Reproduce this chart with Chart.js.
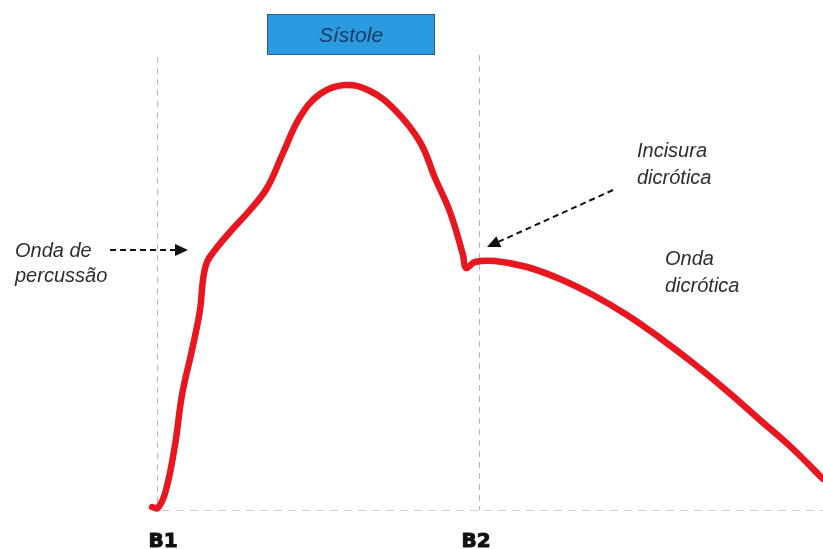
<!DOCTYPE html>
<html>
<head>
<meta charset="utf-8">
<script src="https://cdn.jsdelivr.net/npm/chart.js@4"></script>
<style>
  html, body { margin: 0; padding: 0; background: #ffffff; }
  #wrap { width: 823px; height: 549px; }
</style>
</head>
<body>
<div id="wrap"><canvas id="c" width="823" height="549"></canvas></div>
<script>
// Arterial pressure waveform (arbitrary units), time measured from B1
const timeValues = [-5, 1, 9, 18, 25, 35, 43, 46, 50, 58, 73, 93, 110, 126, 143, 163, 188, 213, 238, 263, 278, 293, 306, 309, 318, 338, 370, 403, 436, 470, 503, 536, 570, 603, 636, 666];
const pressureValues = [3, 2, 20, 65, 115, 160, 200, 230, 248, 260, 278, 300, 322, 357, 393, 416, 425, 419, 400, 368, 332, 298, 255, 242, 248, 249, 243, 231, 215, 195, 172, 147, 119, 90, 61, 31];

// Heart sounds markers
const markerLabels = ['B1', 'B2'];
const markerTimes = [0, 322];

// Annotation texts
const phaseLabel = 'Sístole';
const percussionLabel = ['Onda de', 'percussão'];
const incisuraLabel = ['Incisura', 'dicrótica'];
const dicroticLabel = ['Onda', 'dicrótica'];

const points = timeValues.map((t, i) => ({ x: t, y: pressureValues[i] }));

function arrow(ctx, x1, y1, x2, y2) {
  const ang = Math.atan2(y2 - y1, x2 - x1);
  const headLen = 13, headW = 6;
  const bx = x2 - headLen * Math.cos(ang), by = y2 - headLen * Math.sin(ang);
  ctx.save();
  ctx.strokeStyle = '#111';
  ctx.lineWidth = 2;
  ctx.setLineDash([6, 4]);
  ctx.beginPath();
  ctx.moveTo(x1, y1);
  ctx.lineTo(bx, by);
  ctx.stroke();
  ctx.setLineDash([]);
  ctx.fillStyle = '#111';
  ctx.beginPath();
  ctx.moveTo(x2, y2);
  ctx.lineTo(bx + headW * Math.sin(ang), by - headW * Math.cos(ang));
  ctx.lineTo(bx - headW * Math.sin(ang), by + headW * Math.cos(ang));
  ctx.closePath();
  ctx.fill();
  ctx.restore();
}

const guides = {
  id: 'guides',
  beforeDatasetsDraw(chart) {
    const ctx = chart.ctx;
    const xs = chart.scales.x, ys = chart.scales.y;
    const y0 = ys.getPixelForValue(0);
    ctx.save();
    // baseline
    ctx.strokeStyle = '#cfcfcf';
    ctx.lineWidth = 1;
    ctx.setLineDash([8, 6]);
    ctx.beginPath();
    ctx.moveTo(xs.getPixelForValue(markerTimes[0]) + 5, y0 + 0.5);
    ctx.lineTo(chart.chartArea.right, y0 + 0.5);
    ctx.stroke();
    // vertical marker lines
    ctx.strokeStyle = '#b5b5b5';
    ctx.setLineDash([6, 5]);
    const tops = [ys.getPixelForValue(453), ys.getPixelForValue(455)];
    markerTimes.forEach((t, i) => {
      const px = Math.round(xs.getPixelForValue(t)) + 0.5;
      ctx.beginPath();
      ctx.moveTo(px, tops[i]);
      ctx.lineTo(px, y0);
      ctx.stroke();
    });
    ctx.restore();
  },
  afterDraw(chart) {
    const ctx = chart.ctx;
    const xs = chart.scales.x;
    ctx.save();
    // Sístole box
    ctx.fillStyle = '#2a9be0';
    ctx.fillRect(267, 14, 168, 41);
    ctx.strokeStyle = '#2c5a80';
    ctx.lineWidth = 1;
    ctx.strokeRect(267.5, 14.5, 167, 40);
    ctx.fillStyle = '#173a5e';
    ctx.font = 'italic 21px "Liberation Sans", Arial, sans-serif';
    ctx.textAlign = 'center';
    ctx.textBaseline = 'alphabetic';
    ctx.fillText(phaseLabel, 351, 42);

    // annotation texts
    ctx.fillStyle = '#2e2e2e';
    ctx.textAlign = 'left';
    ctx.font = 'italic 20px "Liberation Sans", Arial, sans-serif';
    ctx.fillText(percussionLabel[0], 15, 257);
    ctx.fillText(percussionLabel[1], 15, 282);
    ctx.fillText(incisuraLabel[0], 637, 157);
    ctx.fillText(incisuraLabel[1], 637, 184);
    ctx.fillText(dicroticLabel[0], 665, 265);
    ctx.fillText(dicroticLabel[1], 665, 292);

    // arrows
    arrow(ctx, 110, 250, 188, 250);
    arrow(ctx, 613, 190, 487, 247);

    // marker labels
    ctx.fillStyle = '#111';
    ctx.strokeStyle = '#111';
    ctx.lineWidth = 1;
    ctx.font = 'bold 20px "DejaVu Sans", sans-serif';
    ctx.textAlign = 'center';
    const offs = [6, -3];
    markerLabels.forEach((lab, i) => {
      const px = xs.getPixelForValue(markerTimes[i]) + offs[i];
      ctx.fillText(lab, px, 547);
      ctx.strokeText(lab, px, 547);
    });
    ctx.restore();
  }
};

new Chart(document.getElementById('c'), {
  type: 'line',
  data: {
    datasets: [{
      data: points,
      borderColor: '#e8161e',
      borderWidth: 6.5,
      pointRadius: 0,
      tension: 0.4,
      borderCapStyle: 'round',
      borderJoinStyle: 'round',
      fill: false,
      clip: false
    }]
  },
  options: {
    responsive: false,
    devicePixelRatio: 1,
    animation: false,
    layout: { padding: 0 },
    plugins: { legend: { display: false }, tooltip: { enabled: false } },
    scales: {
      x: { type: 'linear', min: -157, max: 666, display: false },
      y: { type: 'linear', min: -39, max: 510, display: false }
    }
  },
  plugins: [guides]
});
</script>
</body>
</html>
